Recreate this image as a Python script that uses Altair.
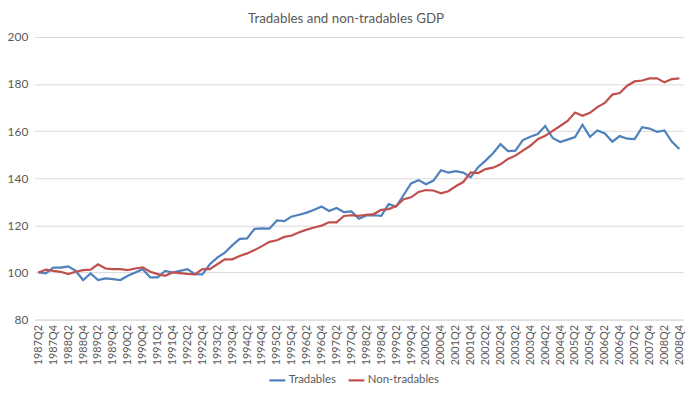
import altair as alt
import pandas as pd

quarters = [f"{y}Q{q}" for y in range(1987, 2009) for q in range(1, 5)][1:]
label_quarters = quarters[::2]

tradables = [
    100.0, 99.6, 102.1, 102.1, 102.6, 100.7, 96.8, 99.6, 96.8, 97.5,
    97.2, 96.8, 98.6, 100.0, 101.4, 97.9, 97.9, 100.7, 100.0, 100.7,
    101.4, 99.3, 99.2, 103.5, 106.3, 108.4, 111.5, 114.3, 114.5, 118.5,
    118.7, 118.6, 122.1, 121.8, 123.8, 124.5, 125.4, 126.6, 128.0, 126.1,
    127.4, 125.6, 125.9, 122.8, 124.2, 124.3, 124.0, 129.0, 128.0, 132.9,
    137.8, 139.2, 137.5, 139.0, 143.4, 142.4, 143.0, 142.4, 140.4, 144.7,
    147.5, 150.6, 154.5, 151.5, 151.7, 156.2, 157.6, 158.8, 162.2, 157.1,
    155.4, 156.4, 157.5, 162.7, 157.6, 160.3, 159.0, 155.5, 157.9, 156.8,
    156.6, 161.7, 161.1, 159.7, 160.3, 155.5, 152.4,
]
non_tradables = [
    100.0, 101.2, 100.7, 100.3, 99.3, 100.3, 101.0, 101.2, 103.5, 101.7,
    101.4, 101.4, 101.0, 101.7, 102.2, 100.3, 99.3, 98.6, 100.0, 99.7,
    99.4, 99.2, 101.4, 101.4, 103.5, 105.6, 105.6, 107.0, 108.1, 109.5,
    111.2, 113.0, 113.7, 115.1, 115.7, 117.1, 118.2, 119.1, 119.9, 121.3,
    121.3, 124.0, 124.3, 124.0, 124.5, 124.8, 126.6, 126.9, 128.2, 131.1,
    131.9, 134.2, 135.0, 134.8, 133.6, 134.5, 136.6, 138.4, 142.5, 142.2,
    143.9, 144.5, 145.9, 148.2, 149.6, 151.7, 153.8, 156.6, 158.0, 160.1,
    162.2, 164.3, 167.9, 166.5, 167.8, 170.2, 172.0, 175.5, 176.2, 179.3,
    181.1, 181.5, 182.4, 182.4, 180.7, 182.1, 182.4,
]
series_names = ["Tradables", "Non-tradables"]
series_colors = ["#4F81BD", "#C0504D"]
y_ticks = [80, 100, 120, 140, 160, 180, 200]

df = pd.DataFrame({
    "quarter": quarters * 2,
    "series": [series_names[0]] * len(quarters) + [series_names[1]] * len(quarters),
    "value": tradables + non_tradables,
})

FONT = "Lato"
GREY = "#595959"

chart = alt.Chart(df).mark_line(strokeWidth=2.25).encode(
    x=alt.X(
        "quarter:N", sort=quarters,
        scale=alt.Scale(type="point", padding=0.5),
        axis=alt.Axis(values=label_quarters, labelAngle=-90, title=None, ticks=False,
                      grid=False, domainColor="#d9d9d9", labelColor=GREY, labelFont=FONT,
                      labelFontSize=11, labelPadding=5, labelOverlap=False),
    ),
    y=alt.Y(
        "value:Q",
        scale=alt.Scale(domain=[80, 200], nice=False, zero=False),
        axis=alt.Axis(values=y_ticks, title=None, domain=False, ticks=False,
                      gridColor="#d9d9d9", labelColor=GREY, labelFont=FONT,
                      labelFontSize=12, labelPadding=7),
    ),
    color=alt.Color(
        "series:N", sort=series_names,
        scale=alt.Scale(domain=series_names, range=series_colors),
        legend=alt.Legend(title=None, orient="none", legendX=236, legendY=338,
                          direction="horizontal", symbolType="stroke",
                          symbolStrokeWidth=2.25, symbolSize=256, labelFont=FONT,
                          labelFontSize=11.5, labelColor=GREY, columnPadding=8,
                          labelOffset=2),
    ),
).properties(
    width=656, height=286,
    title=alt.TitleParams("Tradables and non-tradables GDP", fontSize=13.5,
                          fontWeight="normal", color=GREY, font=FONT,
                          anchor="middle", offset=6, dx=-13),
    padding={"left": 27, "top": 27, "right": 9, "bottom": 72},
    autosize="none",
).configure_view(stroke=None)

chart.save("out.html", embed_options={"renderer": "svg", "actions": False})
